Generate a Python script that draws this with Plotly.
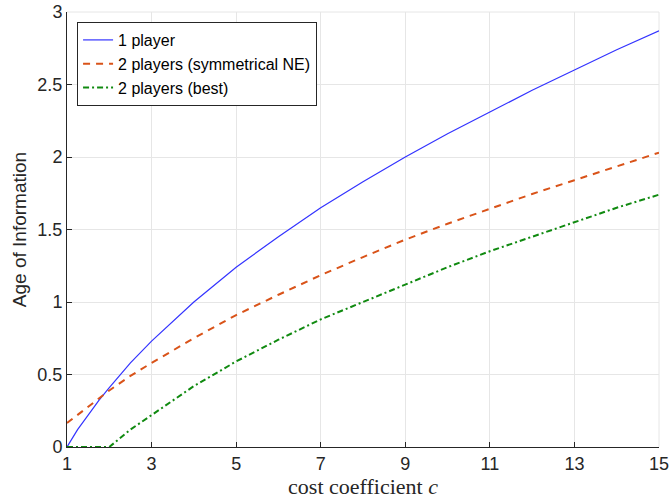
import plotly.graph_objects as go

c = [1, 1.25, 1.5, 1.75, 2, 2.5, 3, 4, 5, 6, 7, 8, 9, 10, 11, 12, 13, 14, 15]
one_player = [0.0, 0.12, 0.22, 0.32, 0.41, 0.58, 0.73, 1.00, 1.24, 1.45, 1.65, 1.83, 2.00, 2.16, 2.31, 2.46, 2.60, 2.74, 2.87]
two_ne = [0.165, 0.22, 0.28, 0.335, 0.39, 0.49, 0.58, 0.75, 0.91, 1.05, 1.185, 1.31, 1.43, 1.54, 1.645, 1.745, 1.84, 1.935, 2.03]
two_best = [0.0, 0.0, 0.0, 0.0, 0.0, 0.12, 0.22, 0.42, 0.59, 0.74, 0.88, 1.00, 1.12, 1.24, 1.35, 1.45, 1.55, 1.65, 1.74]
x_ticks = [1, 3, 5, 7, 9, 11, 13, 15]
y_ticks = [0, 0.5, 1, 1.5, 2, 2.5, 3]
y_tick_labels = ["0", "0.5", "1", "1.5", "2", "2.5", "3"]

fig = go.Figure()
fig.add_trace(go.Scatter(x=c, y=one_player, mode="lines", name="1 player",
                         line=dict(color="#3333ff", width=1.2)))
fig.add_trace(go.Scatter(x=c, y=two_ne, mode="lines", name="2 players (symmetrical NE)",
                         line=dict(color="#D95319", width=2, dash="7px,6px")))
fig.add_trace(go.Scatter(x=c, y=two_best, mode="lines", name="2 players (best)",
                         line=dict(color="#108a10", width=2, dash="6px,3px,2px,3px")))

fig.update_layout(
    width=669, height=504,
    margin=dict(l=67, r=10, t=12, b=57),
    paper_bgcolor="white", plot_bgcolor="white",
    font=dict(family="Liberation Sans, Arial", size=18, color="#262626"),
    showlegend=True,
    legend=dict(x=0.017, y=0.977, xanchor="left", yanchor="top",
                bgcolor="white", bordercolor="#262626", borderwidth=1,
                font=dict(size=16, color="#000000"), tracegroupgap=0,
                itemwidth=30),
    xaxis=dict(range=[1, 15], tickvals=x_ticks, ticktext=[str(v) for v in x_ticks],
               ticks="inside", ticklen=5, tickcolor="#262626", automargin=False,
               ticklabeloverflow="allow",
               showline=True, linecolor="#262626", linewidth=1,
               showgrid=True, gridcolor="#e6e6e6", zeroline=False,
               tickfont=dict(size=18, color="#262626"),
               title=dict(text="cost coefficient <i>c</i>",
                          font=dict(family="Liberation Serif, Times New Roman", size=22, color="#262626"),
                          standoff=4)),
    yaxis=dict(range=[0, 3], tickvals=y_ticks, ticktext=y_tick_labels,
               ticks="inside", ticklen=5, tickcolor="#262626", automargin=False,
               ticklabeloverflow="allow",
               showline=True, linecolor="#262626", linewidth=1,
               showgrid=True, gridcolor="#e6e6e6", zeroline=False,
               tickfont=dict(size=18, color="#262626"),
               title=dict(text="Age of Information",
                          font=dict(size=19, color="#262626"), standoff=5)),
)
# light top and right frame lines (grid at range ends)
fig.add_shape(type="line", xref="paper", yref="paper", x0=0, x1=1, y0=1, y1=1,
              line=dict(color="#e6e6e6", width=1), layer="below")
fig.add_shape(type="line", xref="paper", yref="paper", x0=1, x1=1, y0=0, y1=1,
              line=dict(color="#e6e6e6", width=1), layer="below")

fig.write_html("out.html")
